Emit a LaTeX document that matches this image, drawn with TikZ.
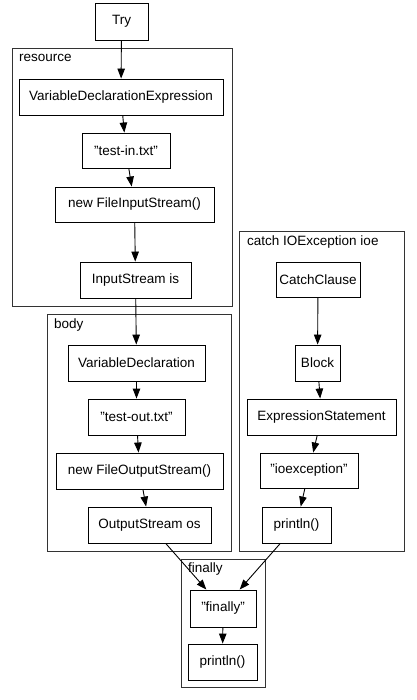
\documentclass[tikz,border=0pt]{standalone}
\usepackage{fontspec}
\setmainfont{Liberation Sans}
\usetikzlibrary{arrows.meta}
\newcommand{\qq}{\symbol{34}}
\begin{document}
\begin{tikzpicture}[x=1pt,y=-1pt,
  box/.style={draw=black,line width=0.9pt,inner sep=0pt,minimum height=36pt,font=\fontsize{13.5}{16}\selectfont},
  clus/.style={draw=black!80,line width=0.9pt},
  clab/.style={anchor=west,inner sep=0pt,font=\fontsize{13.5}{16}\selectfont},
  edge/.style={draw=black,line width=0.9pt,-{Triangle[length=10pt,width=7.5pt]}}]
\fill[white] (0,0) rectangle (416,700);
\useasboundingbox (0,0) rectangle (416,700);
% clusters
\draw[clus] (12,48) rectangle (232,306);
\node[clab] (lres) at (19,58) {resource};
\draw[clus] (47,314) rectangle (231,551);
\node[clab] (lbody) at (54,325) {body};
\draw[clus] (239,231) rectangle (404,551);
\node[clab] (lcatch) at (247,242) {catch IOException ioe};
\draw[clus] (181,559) rectangle (265,687);
\node[clab] (lfin) at (188,569) {finally};
% nodes
\node[box,minimum width=53pt,minimum height=37pt] (try) at (121.5,21.5) {Try};
\node[box,minimum width=204pt] (vde) at (121,97) {VariableDeclarationExpression};
\node[box,minimum width=88pt,minimum height=35pt] (tin) at (126,150.5) {\qq test-in.txt\qq};
\node[box,minimum width=159pt,minimum height=35pt] (fis) at (134.5,204.5) {new FileInputStream()};
\node[box,minimum width=111pt] (is) at (135.5,280) {InputStream is};
\node[box,minimum width=137pt] (vd) at (136.5,363) {VariableDeclaration};
\node[box,minimum width=97pt] (tout) at (136.5,417) {\qq test-out.txt\qq};
\node[box,minimum width=167pt] (fos) at (139.5,471) {new FileOutputStream()};
\node[box,minimum width=123pt] (os) at (149.5,525) {OutputStream os};
\node[box,minimum width=84pt,minimum height=35pt] (cc) at (318,279.5) {CatchClause};
\node[box,minimum width=45pt] (blk) at (317.5,363) {Block};
\node[box,minimum width=149pt] (es) at (321.5,417) {ExpressionStatement};
\node[box,minimum width=98pt,minimum height=35pt] (ioe) at (309,470.5) {\qq ioexception\qq};
\node[box,minimum width=69pt] (pla) at (296.5,525) {println()};
\node[box,minimum width=66pt,minimum height=37pt] (fin) at (223,608.5) {\qq finally\qq};
\node[box,minimum width=69pt] (plb) at (222.5,662) {println()};
% edges
\draw[edge] (try) -- (vde);
\draw[edge] (vde) -- (tin);
\draw[edge] (tin) -- (fis);
\draw[edge] (fis) -- (is);
\draw[edge] (is) -- (vd);
\draw[edge] (vd) -- (tout);
\draw[edge] (tout) -- (fos);
\draw[edge] (fos) -- (os);
\draw[edge] (cc) -- (blk);
\draw[edge] (blk) -- (es);
\draw[edge] (es) -- (ioe);
\draw[edge] (ioe) -- (pla);
\draw[edge] (os) -- (fin);
\draw[edge] (pla) -- (fin);
\draw[edge] (fin) -- (plb);
\end{tikzpicture}
\end{document}
